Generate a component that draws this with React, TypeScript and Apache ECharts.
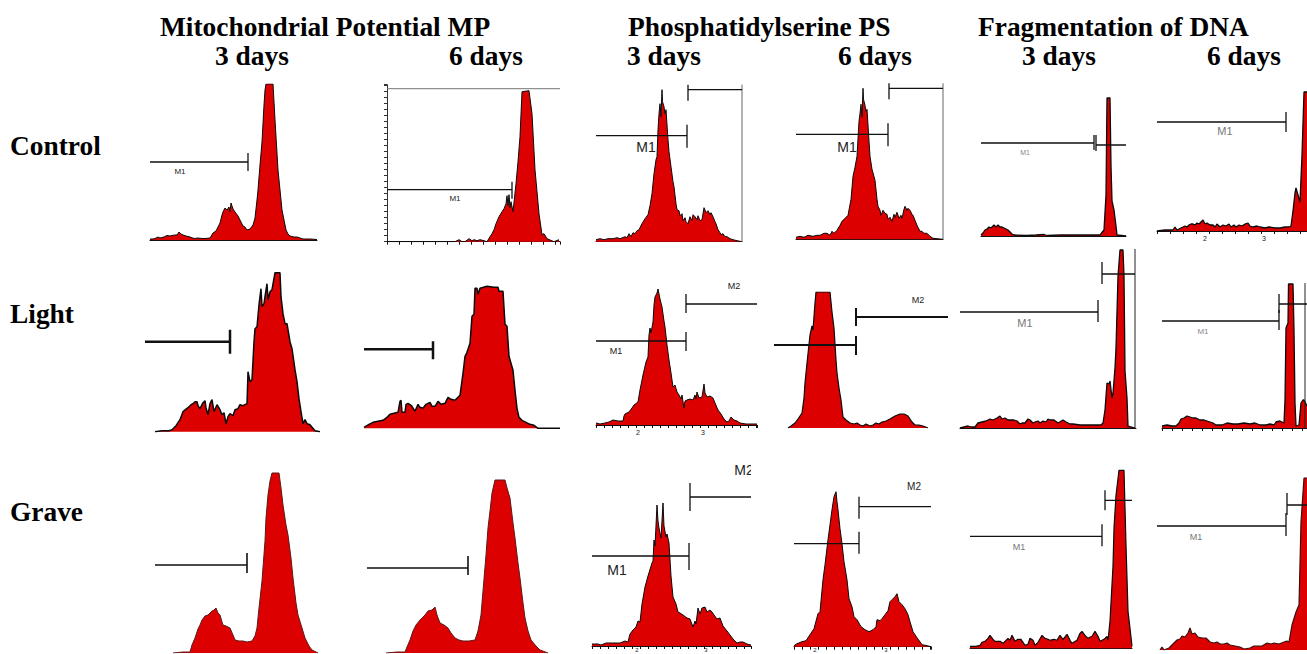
import React, { useEffect, useRef } from "react";
import * as echarts from "echarts";

// Histogram outlines: [channel, events]
const mpControl3 = [[0,1],[3,1],[5,1.5],[8,3],[10,2],[14,3],[17,4.5],[20,4],[22,4.5],[25,5],[27,5],[29,8],[31,6],[33,5],[36,4],[40,3],[44,1.5],[48,2],[52,1.5],[55,1.5],[60,2],[63,7],[66,9],[68,13],[70,17],[72,25],[73,28],[75,32],[77,30],[79,33],[80,28],[81,37],[83,31],[85,28],[88,24],[90,20],[93,14],[95,13],[97,10],[100,11],[103,15],[105,22],[107,40],[108,50],[110,75],[112,98],[114,135],[115,150],[116,156],[123,156],[125,120],[128,70],[130,50],[132,30],[134,20],[136,10],[138,6],[140,4],[144,3],[147,3],[153,1],[160,1],[167,0.5]];
const mpControl6 = [[0,0],[68,0],[72,2],[75,0],[78,0],[82,3],[85,1],[87,2],[90,1],[93,2],[97,1],[100,0],[103,5],[105,8],[107,12],[109,18],[112,25],[115,30],[117,33],[119,38],[120,46],[121,36],[122,47],[123,34],[124,40],[126,30],[129,58],[131,80],[133,105],[135,150],[142,151],[145,128],[148,72],[150,50],[152,28],[155,7],[157,8],[160,3],[167,0],[172,2]];
const psControl3 = [[0,2],[4,3],[8,2],[12,3],[17,3],[21,4],[24,3],[29,5],[31,4],[33,8],[35,5],[37,9],[39,8],[41,11],[43,12],[46,18],[49,23],[52,27],[54,36],[56,48],[58,68],[60,82],[61,85],[62,112],[63,128],[64,138],[65,125],[66,152],[66.5,140],[68,135],[69,128],[70,132],[72,102],[73,90],[75,75],[77,60],[78,55],[80,38],[81,32],[83,31],[84,26],[86,28],[87,21],[89,24],[90,20],[92,18],[94,25],[96,21],[97,27],[99,25],[101,22],[102,26],[104,21],[106,22],[108,34],[110,29],[112,31],[114,27],[115,29],[117,25],[119,20],[120,18],[122,12],[124,9],[125,7],[127,8],[129,5],[131,5],[134,3],[137,2],[141,1],[146,0]];
const psControl6 = [[0,2],[4,3],[8,2],[12,4],[17,3],[21,4],[24,4],[28,6],[31,6],[34,4],[36,8],[38,6],[41,9],[44,14],[46,18],[49,21],[52,24],[55,40],[57,63],[59,72],[61,83],[63,118],[64,126],[65,135],[66,122],[67,151],[67.5,140],[69,134],[70,128],[71,130],[73,98],[74,83],[76,70],[79,59],[81,40],[82,33],[84,29],[85,24],[87,29],[89,26],[91,25],[92,20],[94,22],[96,18],[98,25],[99,22],[101,27],[103,21],[105,24],[106,21],[108,30],[109,33],[111,29],[112,31],[114,29],[116,25],[117,24],[119,19],[121,14],[122,12],[124,8],[126,8],[128,6],[131,6],[134,3],[137,1],[147,0]];
const fragControl3 = [[0,1],[2,3],[4,6],[6,7],[8,9],[10,8],[13,11],[15,9],[17,11],[19,9],[21,9],[23,8],[25,7],[27,6],[29,4],[31,2],[33,1],[46,0.5],[55,1],[63,1.5],[66,0.5],[80,1],[90,1],[100,1],[105,1],[119,1],[123,6],[125,41],[126,138],[129,138],[130,70],[131,35],[133,26],[135,10],[136,1],[145,0]];
const fragControl6 = [[0,0],[8,1],[16,1],[18,4],[20,1],[24,3],[28,5],[30,4],[32,6],[34,7],[36,7],[38,6],[40,8],[42,7],[44,9],[46,11],[48,7],[50,8],[53,6],[56,6],[58,4],[60,7],[63,4],[66,6],[69,5],[72,7],[74,4],[77,6],[79,4],[82,6],[85,5],[88,7],[91,8],[93,5],[96,4],[100,5],[103,4],[108,3],[112,4],[118,3],[123,3],[128,4],[132,4],[134,5],[136,20],[138,38],[139,43],[141,36],[143,29],[145,76],[147,139],[150,139]];
const mpLight3 = [[10,0],[17,1],[24,1],[27,2],[31,6],[35,12],[38,20],[43,24],[46,27],[48,28],[50,30],[52,30],[53,26],[55,23],[58,29],[60,31],[61,24],[63,17],[65,28],[67,32],[69,20],[72,27],[75,22],[77,17],[79,19],[81,8],[83,15],[85,18],[88,16],[90,22],[93,23],[95,27],[98,26],[102,28],[103,60],[105,50],[107,52],[109,90],[110,103],[112,105],[114,127],[116,143],[117,125],[119,128],[120,135],[122,148],[123,132],[125,140],[127,142],[130,159],[135,159],[136,135],[138,118],[140,108],[142,108],[145,90],[147,83],[150,62],[152,50],[154,33],[156,20],[158,8],[160,12],[162,8],[165,7],[170,1],[175,0]];
const mpLight6 = [[0,1],[5,4],[9,6],[14,7],[19,8],[23,11],[26,14],[30,15],[34,16],[36,27],[37,28],[38,16],[41,16],[42,24],[44,25],[47,23],[48,22],[51,17],[54,24],[56,21],[59,20],[62,24],[66,26],[68,22],[71,22],[74,27],[77,24],[81,25],[84,31],[87,29],[91,28],[96,33],[99,55],[101,72],[103,76],[106,85],[108,112],[110,114],[111,140],[113,140],[114,134],[116,140],[123,142],[130,141],[134,141],[135,137],[139,137],[141,104],[143,102],[145,72],[149,58],[151,38],[153,20],[155,11],[158,8],[162,6],[166,4],[170,3],[174,0],[196,0]];
const psLight3 = [[0,2],[4,1],[9,2],[13,3],[17,5],[22,4],[27,4],[28,9],[29,11],[33,13],[36,17],[38,20],[42,23],[44,35],[47,50],[50,63],[52,68],[53,90],[54,97],[55,92],[57,103],[58,120],[59,128],[61,132],[62,136],[64,126],[66,118],[68,104],[69,98],[71,80],[73,65],[75,52],[77,38],[79,40],[81,33],[83,30],[85,26],[86,30],[88,17],[89,24],[91,25],[94,26],[97,25],[99,30],[100,26],[101,33],[103,27],[106,28],[108,41],[109,32],[111,28],[114,29],[117,27],[119,22],[122,15],[125,11],[128,6],[131,3],[133,4],[135,8],[138,5],[141,4],[144,2],[150,1],[161,1]];
const psLight6 = [[14,0],[17,2],[21,5],[24,9],[28,15],[30,30],[31,45],[33,65],[36,93],[38,102],[39,98],[41,125],[42,136],[56,136],[58,116],[60,100],[62,68],[63,55],[65,40],[67,28],[69,11],[72,8],[76,5],[80,4],[83,5],[86,3],[89,2],[92,4],[96,2],[99,3],[102,5],[105,4],[108,6],[112,7],[116,9],[121,12],[126,14],[130,14],[134,12],[138,6],[141,3],[145,3],[149,2],[154,0]];
const fragLight3 = [[0,0],[4,1],[8,2],[11,1],[15,1],[18,5],[22,6],[26,7],[30,9],[33,8],[37,10],[40,12],[42,9],[45,10],[48,8],[51,8],[54,8],[57,7],[60,4],[62,5],[65,5],[68,9],[70,8],[73,5],[75,6],[78,7],[80,5],[83,7],[86,6],[88,9],[90,8],[94,8],[98,5],[103,8],[106,6],[110,4],[113,4],[120,3],[128,3],[137,3],[141,3],[143,5],[145,18],[147,45],[149,44],[150,47],[152,30],[153,35],[155,60],[156,80],[158,152],[160,178],[163,178],[164,152],[165,57],[167,30],[168,2],[175,0]];
const fragLight6 = [[0,2],[5,3],[10,2],[14,2],[17,5],[19,9],[22,10],[25,12],[28,11],[31,10],[34,10],[38,8],[42,8],[45,7],[48,6],[51,5],[54,3],[60,3],[65,5],[71,4],[76,4],[82,5],[88,4],[93,5],[98,3],[104,3],[108,4],[112,3],[114,6],[118,7],[122,5],[123,28],[124,100],[126,105],[126.5,144],[131,144],[132,97],[133,25],[134,2],[137,3],[139,25],[141,28],[142,28],[145,22]];
const mpGrave3 = [[18,0],[28,1],[35,1],[37,8],[40,15],[43,24],[45,28],[47,33],[50,37],[53,38],[57,42],[59,43],[61,45],[63,40],[65,38],[67,31],[68,28],[71,27],[73,26],[75,25],[78,18],[80,13],[84,12],[88,12],[92,11],[97,12],[100,17],[102,25],[104,45],[107,72],[110,112],[111,135],[113,158],[115,172],[117,180],[124,180],[126,165],[128,148],[131,128],[133,118],[136,95],[138,75],[141,50],[143,38],[147,25],[150,15],[154,7],[157,3],[163,0]];
const mpGrave6 = [[19,0],[30,1],[38,1],[40,6],[43,13],[46,22],[49,28],[53,33],[58,38],[61,42],[65,43],[68,46],[70,38],[73,30],[77,28],[81,25],[84,20],[88,15],[92,13],[96,12],[102,12],[108,13],[111,22],[114,38],[116,62],[119,98],[121,125],[123,142],[125,160],[128,173],[138,173],[140,165],[143,155],[146,130],[148,115],[151,90],[153,75],[156,50],[158,35],[161,22],[164,13],[169,7],[173,3],[181,0]];
const psGrave3 = [[0,2],[6,2],[9,1],[14,3],[21,3],[28,3],[33,5],[36,4],[38,12],[41,16],[44,19],[46,25],[48,24],[50,42],[53,59],[56,70],[60,83],[61,85],[62,106],[63,100],[65,141],[66,125],[67,118],[69,108],[71,143],[72,120],[74,109],[75,112],[77,103],[79,70],[81,49],[84,42],[86,34],[88,33],[91,31],[95,28],[98,27],[101,19],[103,25],[104,22],[106,38],[108,32],[110,38],[113,39],[115,34],[118,36],[120,34],[122,31],[125,27],[128,28],[131,20],[135,15],[138,11],[141,7],[145,3],[148,4],[151,4],[155,2],[159,1]];
const psGrave6 = [[0,1],[3,3],[8,5],[12,6],[16,12],[20,18],[24,33],[26,35],[29,67],[31,82],[34,107],[36,122],[38,137],[40,150],[42,155],[43,145],[44,137],[46,118],[48,103],[50,85],[53,67],[55,48],[58,40],[60,30],[63,27],[67,20],[71,17],[75,15],[79,17],[82,20],[83,27],[86,26],[88,28],[91,32],[94,36],[96,45],[98,47],[101,50],[103,53],[105,45],[108,42],[111,38],[114,32],[116,25],[119,15],[123,9],[128,2],[133,1],[137,0]];
const fragGrave3 = [[0,2],[6,2],[10,3],[12,6],[15,7],[18,10],[20,13],[23,9],[25,7],[30,7],[33,5],[35,7],[38,10],[40,8],[42,13],[45,7],[48,9],[51,9],[55,3],[58,4],[60,10],[63,8],[65,3],[68,6],[72,13],[75,10],[78,9],[80,8],[84,9],[87,8],[90,13],[93,9],[97,14],[100,8],[102,5],[107,8],[110,15],[112,17],[115,13],[118,10],[122,12],[125,17],[128,12],[130,7],[134,9],[137,12],[138,8],[140,27],[143,82],[144,120],[146,153],[149,178],[154,178],[156,103],[158,37],[160,20],[162,2]];
const fragGrave6 = [[3,0],[5,3],[7,0],[12,2],[16,6],[20,10],[23,11],[25,14],[28,13],[31,17],[33,22],[35,16],[38,17],[41,13],[45,12],[49,12],[53,8],[57,7],[60,8],[63,6],[67,6],[70,7],[73,5],[78,4],[83,3],[87,1],[93,2],[97,4],[100,4],[105,4],[110,7],[114,6],[117,7],[122,6],[127,8],[130,9],[132,8],[135,25],[139,38],[142,45],[144,128],[147,172],[150,172]];

// Region markers: [from, to, level, tickLow, tickHigh]
const gatesMpControl3 = [[0,98,78,69,87]];
const gatesMpControl6 = [[0,125,52,43,60]];
const gatesPsControl3 = [[0,91,106,94,117],[92,146,152,141,157]];
const gatesPsControl6 = [[0,92,105,93,116],[93,147,151,140,156]];
const gatesFragControl3 = [[0,113,93,86,101],[115,145,91,85,101]];
const gatesFragControl6 = [[0,129,109,99,119]];
const gatesMpLight3 = [[0,85,90,78,102]];
const gatesMpLight6 = [[0,69,79,69,87]];
const gatesPsLight3 = [[0,90,84,74,93],[90,161,121,112,131]];
const gatesPsLight6 = [[0,82,83,73,92],[82,174,111,102,120]];
const gatesFragLight3 = [[0,138,116,106,128],[142,175,154,144,166]];
const gatesFragLight6 = [[0,117,107,98,118],[117,145,124,115,134]];
const gatesMpGrave3 = [[0,92,88,80,100]];
const gatesMpGrave6 = [[0,101,85,78,97]];
const gatesPsGrave3 = [[0,97,90,76,103],[98,159,149,135,163]];
const gatesPsGrave6 = [[0,65,103,93,115],[65,137,140,128,150]];
const gatesFragGrave3 = [[0,132,112,102,124],[135,162,148,138,158]];
const gatesFragGrave6 = [[0,129,124,114,137],[130,150,145,135,157]];

const headings = ["Mitochondrial Potential MP", "Phosphatidylserine PS", "Fragmentation of DNA"];
const rowNames = ["Control", "Light", "Grave"];
const dayNames = ["3 days", "6 days"];

type Panel = {
  data: number[][]; gates: number[][]; left: number; baseline: number; width: number; height: number;
  weight?: number; frames?: number[][]; frameColor?: string; xTicks?: number; yTicks?: number; gateWeight?: number; edge?: string; axis?: boolean;
};

const panels: Panel[] = [
  { data: mpControl3, gates: gatesMpControl3, left: 150, baseline: 240, width: 167, height: 156, axis: true },
  { data: mpControl6, gates: gatesMpControl6, left: 387, baseline: 241.7, width: 173, height: 157, frames: [[0,153,173,153]], frameColor: "#777", xTicks: 12, yTicks: 6, axis: true },
  { data: psControl3, gates: gatesPsControl3, left: 596, baseline: 241.7, width: 146, height: 157, frames: [[146,0,146,157]], frameColor: "#666", axis: true },
  { data: psControl6, gates: gatesPsControl6, left: 796, baseline: 239.3, width: 147, height: 156, frames: [[147,0,147,156]], frameColor: "#666", axis: true },
  { data: fragControl3, gates: gatesFragControl3, left: 981, baseline: 236, width: 145, height: 140, axis: true, weight: 1.3 },
  { data: fragControl6, gates: gatesFragControl6, left: 1157, baseline: 231, width: 150, height: 140, xTicks: 13, axis: true, weight: 1.3 },
  { data: mpLight3, gates: gatesMpLight3, left: 145, baseline: 431.7, width: 175, height: 160, weight: 1.5, gateWeight: 2.5 },
  { data: mpLight6, gates: gatesMpLight6, left: 364, baseline: 428.3, width: 196, height: 143, weight: 1.5, gateWeight: 2.5 },
  { data: psLight3, gates: gatesPsLight3, left: 596, baseline: 425, width: 161, height: 137, xTicks: 8, axis: true },
  { data: psLight6, gates: gatesPsLight6, left: 774, baseline: 428, width: 174, height: 136, weight: 1.2, gateWeight: 2 },
  { data: fragLight3, gates: gatesFragLight3, left: 960, baseline: 428, width: 176, height: 179, frames: [[175,0,175,179]], frameColor: "#222", axis: true, weight: 1.3 },
  { data: fragLight6, gates: gatesFragLight6, left: 1162, baseline: 428, width: 145, height: 145, frames: [[143,0,143,145]], frameColor: "#222", xTicks: 10, axis: true, weight: 1.3 },
  { data: mpGrave3, gates: gatesMpGrave3, left: 155, baseline: 653, width: 165, height: 181, edge: "#5a1a1a", gateWeight: 1.6 },
  { data: mpGrave6, gates: gatesMpGrave6, left: 367, baseline: 653, width: 181, height: 174, edge: "#5a1a1a", gateWeight: 1.6 },
  { data: psGrave3, gates: gatesPsGrave3, left: 592, baseline: 646, width: 159, height: 164, xTicks: 8, axis: true },
  { data: psGrave6, gates: gatesPsGrave6, left: 794, baseline: 646.7, width: 137, height: 156, xTicks: 8, axis: true },
  { data: fragGrave3, gates: gatesFragGrave3, left: 970, baseline: 648.3, width: 162, height: 179, axis: true, weight: 1.2 },
  { data: fragGrave6, gates: gatesFragGrave6, left: 1157, baseline: 650, width: 150, height: 173, edge: "#3a1010", weight: 1.2 },
];

const serif = "'Liberation Serif', 'Times New Roman', serif";
const sans = "'Liberation Sans', Arial, sans-serif";
const heading = (text: string, x: number, y: number, align = "left") => ({
  type: "text", x, y, silent: true,
  style: { text, fontFamily: serif, fontWeight: "bold", fontSize: 27.4, fill: "#000", textAlign: align, textVerticalAlign: "middle" },
});
const mark = (text: string, x: number, y: number, size: number, fill = "#222") => ({
  type: "text", x, y, silent: true,
  style: { text, fontFamily: sans, fontSize: size, fill, textAlign: "center", textVerticalAlign: "middle" },
});

// The first marker of a panel carries its tick at the right end, the second at the left.
const segments = (g: number[], index: number) => {
  const tickAt = index === 0 ? g[1] : g[0];
  return [[g[0], g[2]], [g[1], g[2]], [null, null], [tickAt, g[3]], [tickAt, g[4]]];
};

function buildOption() {
  const grid: any[] = [], xAxis: any[] = [], yAxis: any[] = [], series: any[] = [];
  panels.forEach((p, i) => {
    grid.push({ left: p.left, width: p.width, top: p.baseline - p.height, height: p.height, containLabel: false });
    xAxis.push({
      type: "value", gridIndex: i, min: 0, max: p.width, interval: p.xTicks || p.width, show: true,
      axisLine: { show: !!p.axis, lineStyle: { color: "#111", width: 1 } },
      axisTick: { show: !!p.xTicks, length: 3, lineStyle: { color: "#111" } },
      axisLabel: { show: false }, splitLine: { show: false },
    });
    yAxis.push({
      type: "value", gridIndex: i, min: 0, max: p.height, interval: p.yTicks || p.height, show: true,
      axisLine: { show: !!p.yTicks, lineStyle: { color: "#333" } },
      axisTick: { show: !!p.yTicks, length: 3, lineStyle: { color: "#333" } },
      axisLabel: { show: false }, splitLine: { show: false },
    });
    series.push({
      type: "line", xAxisIndex: i, yAxisIndex: i, data: p.data, symbol: "none", silent: true, clip: true,
      lineStyle: { color: p.edge || "#0a0a0a", width: p.weight || 1 },
      areaStyle: { color: "#DC0000", opacity: 1 },
    });
    (p.frames || []).forEach((f) => series.push({
      type: "line", xAxisIndex: i, yAxisIndex: i, symbol: "none", silent: true, clip: false,
      data: [[f[0], f[1]], [f[2], f[3]]], lineStyle: { color: p.frameColor, width: 1 },
    }));
    p.gates.forEach((g, k) => series.push({
      type: "line", xAxisIndex: i, yAxisIndex: i, symbol: "none", silent: true, clip: false, connectNulls: false,
      data: segments(g, k), lineStyle: { color: "#111", width: p.gateWeight || 1.3 },
    }));
  });
  const graphic: any[] = [
    heading(headings[0], 160, 27),
    heading(dayNames[0], 215, 56), heading(dayNames[1], 449, 56),
    heading(headings[1], 628, 27),
    heading(dayNames[0], 627, 56), heading(dayNames[1], 838, 56),
    heading(headings[2], 978, 27),
    heading(dayNames[0], 1022, 56), heading(dayNames[1], 1207, 56),
    heading(rowNames[0], 10, 146), heading(rowNames[1], 10, 314), heading(rowNames[2], 10, 512),
    mark("M1", 180, 171, 8), mark("M1", 455, 198, 8),
    mark("M1", 646, 147, 14), mark("M1", 847, 147, 14),
    mark("M1", 1025, 152, 7, "#888"), mark("M1", 1225, 131, 11, "#777"),
    mark("M1", 616, 351, 9), mark("M2", 734, 286, 9), mark("M2", 918, 300, 9),
    mark("M1", 1025, 323, 11, "#777"), mark("M1", 1203, 331, 8, "#888"),
    mark("M1", 617, 570, 14), mark("M2", 744, 470, 14), mark("M2", 914, 486, 10),
    mark("M1", 1019, 547, 9, "#777"), mark("M1", 1196, 537, 9, "#777"),
    { type: "rect", shape: { x: 751, y: 460, width: 10, height: 20 }, style: { fill: "#fff" }, silent: true },
    mark("2", 638, 432, 7), mark("3", 703, 432, 7),
    mark("2", 637, 650, 6), mark("3", 706, 650, 6),
    mark("2", 815, 650, 6), mark("3", 886, 650, 6),
    mark("2", 1205, 238, 7), mark("3", 1264, 238, 7),
  ];
  return { animation: false, grid, xAxis, yAxis, series, graphic };
}

export default function App() {
  const ref = useRef<HTMLDivElement>(null);
  useEffect(() => {
    const chart = echarts.init(ref.current!, null, { renderer: "svg" });
    chart.setOption(buildOption() as any);
    return () => chart.dispose();
  }, []);
  return <div ref={ref} style={{ position: "fixed", left: 0, top: 0, width: 1307, height: 654, background: "#fff" }} />;
}
